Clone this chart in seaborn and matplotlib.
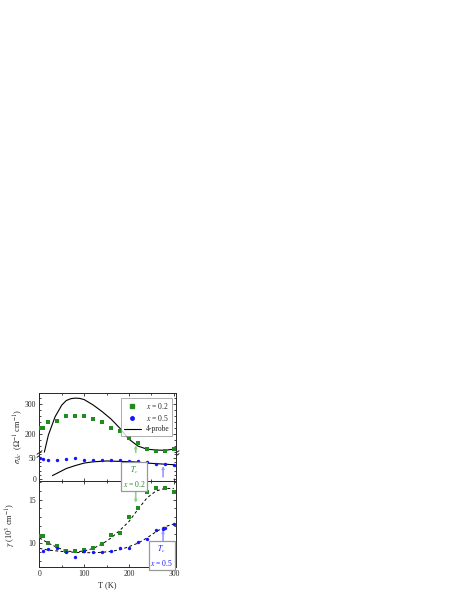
import numpy as np
import pandas as pd
import matplotlib
matplotlib.use("Agg")
import matplotlib.pyplot as plt
from matplotlib.lines import Line2D
from matplotlib.ticker import MultipleLocator
import seaborn as sns

# ---- data ----
# sigma_dc, x = 0.2 (upper part of broken axis)
T_g = [2, 8, 20, 40, 60, 80, 100, 120, 140, 160, 180, 200, 220, 240, 260, 280, 300]
sig_g = [221, 221, 240, 244, 262, 262, 261, 250, 240, 219, 211, 186, 171, 149, 144, 144, 149]
# sigma_dc, x = 0.5 (lower part)
T_b = [1, 7, 20, 40, 60, 80, 100, 120, 140, 160, 180, 200, 220, 240, 260, 280, 300]
sig_b = [51, 48, 45, 45, 47, 50, 46, 45, 45, 45, 45, 44, 43, 40, 36, 35, 34]
# 4-probe curves
T_4p_a = [11, 20, 35, 50, 60, 70, 80, 90, 100, 120, 140, 160, 180, 200, 220, 240, 260, 280, 300]
sig_4p_a = [140, 197, 258, 297, 312, 318, 320, 319, 315, 297, 275, 250, 219, 183, 160, 150, 147, 146, 150]
T_4p_b = [29, 40, 60, 80, 100, 120, 150, 180, 210, 240, 270, 300]
sig_4p_b = [8, 14, 25, 32, 38, 41, 43, 42, 41, 38, 36, 34]

# gamma (10^3 cm^-1)
T_gam_g = [3, 9, 20, 40, 60, 80, 100, 120, 140, 160, 180, 200, 220, 240, 260, 280, 300]
gam_g = [10.8, 10.8, 10.0, 9.7, 9.1, 9.1, 9.2, 9.4, 9.9, 10.9, 11.2, 13.0, 14.0, 15.9, 16.35, 16.35, 15.9]
T_gam_b = [8, 20, 40, 60, 80, 100, 120, 140, 160, 180, 200, 220, 240, 260, 276, 281, 300]
gam_b = [9.1, 9.3, 9.4, 9.0, 8.4, 9.15, 8.95, 8.95, 9.15, 9.5, 9.5, 10.1, 10.45, 11.5, 11.6, 11.7, 12.25]
# dashed fits
T_fit = [0, 20, 40, 60, 80, 100, 120, 140, 160, 180, 200, 220, 240, 260, 280, 300]
fit_g = [10.6, 10.0, 9.5, 9.1, 9.0, 9.1, 9.4, 9.9, 10.6, 11.5, 12.5, 13.9, 15.2, 16.0, 16.3, 16.3]
fit_b = [9.4, 9.2, 9.1, 9.0, 8.95, 8.9, 8.9, 8.95, 9.05, 9.25, 9.6, 10.0, 10.6, 11.3, 11.9, 12.2]

Tc_02 = 215
Tc_05 = 276

green = "#1e8c1e"
blue = "#1414ff"
lgreen = "#8fd08f"
lblue = "#9a9aff"

sns.set_style("ticks")
plt.rcParams["font.family"] = ["Liberation Serif", "DejaVu Serif"]
plt.rcParams["mathtext.fontset"] = "stix"
plt.rcParams["font.size"] = 5.5
plt.rcParams["axes.linewidth"] = 0.7

fig = plt.figure(figsize=(4.63, 5.99), dpi=100)
L, W = 0.0842, 0.297
ax_up = fig.add_axes([L, 0.2437, W, 0.1002])
ax_lo = fig.add_axes([L, 0.1962, W, 0.0475])
ax_b = fig.add_axes([L, 0.0526, W, 0.1436])

df_g = pd.DataFrame({"T": T_g, "s": sig_g})
df_b = pd.DataFrame({"T": T_b, "s": sig_b})

# top panel, upper segment
sns.lineplot(x=T_4p_a, y=sig_4p_a, ax=ax_up, color="black", lw=0.8)
sns.scatterplot(data=df_g, x="T", y="s", ax=ax_up, marker="s", s=5, color=green,
                linewidth=0, zorder=3)
# top panel, lower segment
sns.lineplot(x=T_4p_b, y=sig_4p_b, ax=ax_lo, color="black", lw=0.8)
sns.scatterplot(data=df_b, x="T", y="s", ax=ax_lo, marker="o", s=6, color=blue,
                linewidth=0, zorder=3)

# bottom panel
sns.lineplot(x=T_fit, y=fit_g, ax=ax_b, color="black", lw=0.7, linestyle=(0, (3, 2.5)))
sns.lineplot(x=T_fit, y=fit_b, ax=ax_b, color="black", lw=0.7, linestyle=(0, (3, 2.5)))
sns.scatterplot(x=T_gam_g, y=gam_g, ax=ax_b, marker="s", s=5, color=green,
                linewidth=0, zorder=3)
sns.scatterplot(x=T_gam_b, y=gam_b, ax=ax_b, marker="o", s=6, color=blue,
                linewidth=0, zorder=3)

for ax in (ax_up, ax_lo, ax_b):
    ax.set_xlim(-1, 306)
    ax.set_xlabel("")
    ax.set_ylabel("")
    ax.xaxis.set_major_locator(MultipleLocator(100))
    ax.xaxis.set_minor_locator(MultipleLocator(50))
    ax.tick_params(which="both", direction="in", top=True, right=True, width=0.6,
                   labelsize=5.5, pad=2)
    ax.tick_params(which="major", length=2.5)
    ax.tick_params(which="minor", length=1.5)

ax_up.set_ylim(137, 337)
ax_up.yaxis.set_major_locator(MultipleLocator(100))
ax_up.yaxis.set_minor_locator(MultipleLocator(20))
ax_up.spines["bottom"].set_visible(False)
ax_up.tick_params(which="both", bottom=False, labelbottom=False)

ax_lo.set_ylim(-6, 62)
ax_lo.yaxis.set_major_locator(MultipleLocator(50))
ax_lo.yaxis.set_minor_locator(MultipleLocator(10))
ax_lo.spines["top"].set_visible(False)
ax_lo.tick_params(which="both", top=False, labelbottom=False)

ax_b.set_ylim(7.2, 17.1)
ax_b.yaxis.set_major_locator(MultipleLocator(5))
ax_b.yaxis.set_minor_locator(MultipleLocator(1))
ax_b.set_xlabel("T (K)", fontsize=6, labelpad=2)
ax_b.set_ylabel(r"$\gamma$ (10$^3$ cm$^{-1}$)", fontsize=6)
ax_b.yaxis.set_label_coords(-0.15, 0.5)

fig.text(0.039, 0.272, r"$\sigma_{dc}$  ($\Omega^{-1}$ cm$^{-1}$)", rotation=90,
         ha="center", va="center", fontsize=6)

# break marks
kw = dict(marker=[(-1, -0.7), (1, 0.7)], markersize=4, linestyle="none",
          color="black", mew=0.6, clip_on=False)
for xa in (0, 1):
    ax_up.plot([xa, xa], [0.025, -0.04], transform=ax_up.transAxes, **kw)

# legend
handles = [Line2D([], [], marker="s", ls="none", color=green, ms=2.2),
           Line2D([], [], marker="o", ls="none", color=blue, ms=2.5),
           Line2D([], [], color="black", lw=0.8)]
leg = ax_up.legend(handles, [r"$x$ = 0.2", r"$x$ = 0.5", "4-probe"], loc="upper right",
                   bbox_to_anchor=(0.97, 0.915), borderaxespad=0, fontsize=5.5,
                   fancybox=False, edgecolor="#888888", handlelength=2.2,
                   handletextpad=0.7, labelspacing=0.3, borderpad=0.35)
leg.get_frame().set_linewidth(0.6)

# Tc markers
arr = dict(arrowstyle="-|>", lw=1.2, mutation_scale=3, shrinkA=0, shrinkB=0)
ax_b.text(Tc_02 - 3, 17.65, "$T_c$\n$x$ = 0.2", color=green, ha="center", va="center",
          fontsize=5.5, linespacing=1.4, zorder=10,
          bbox=dict(boxstyle="square,pad=0.22", fc="white", ec="#999999", lw=0.9))
ax_up.annotate("", xy=(Tc_02, 163), xycoords="data",
               xytext=(Tc_02, 28), textcoords=ax_lo.transData,
               arrowprops=dict(color=lgreen, **arr), zorder=1)
ax_b.annotate("", xy=(Tc_02, 14.65), xytext=(Tc_02, 16.5),
              arrowprops=dict(color=lgreen, **arr), zorder=1)

ax_b.text(Tc_05 - 3, 8.55, "$T_c$\n$x$ = 0.5", color=blue, ha="center", va="center",
          fontsize=5.5, linespacing=1.4, zorder=10,
          bbox=dict(boxstyle="square,pad=0.22", fc="white", ec="#999999", lw=0.9))
ax_b.annotate("", xy=(Tc_05, 11.5), xytext=(Tc_05, 9.8),
              arrowprops=dict(color=lblue, **arr), zorder=1)
ax_lo.annotate("", xy=(Tc_05, 31), xytext=(Tc_05, 5),
               arrowprops=dict(color=lblue, **arr), zorder=1)

fig.savefig("out.png", dpi=100)
